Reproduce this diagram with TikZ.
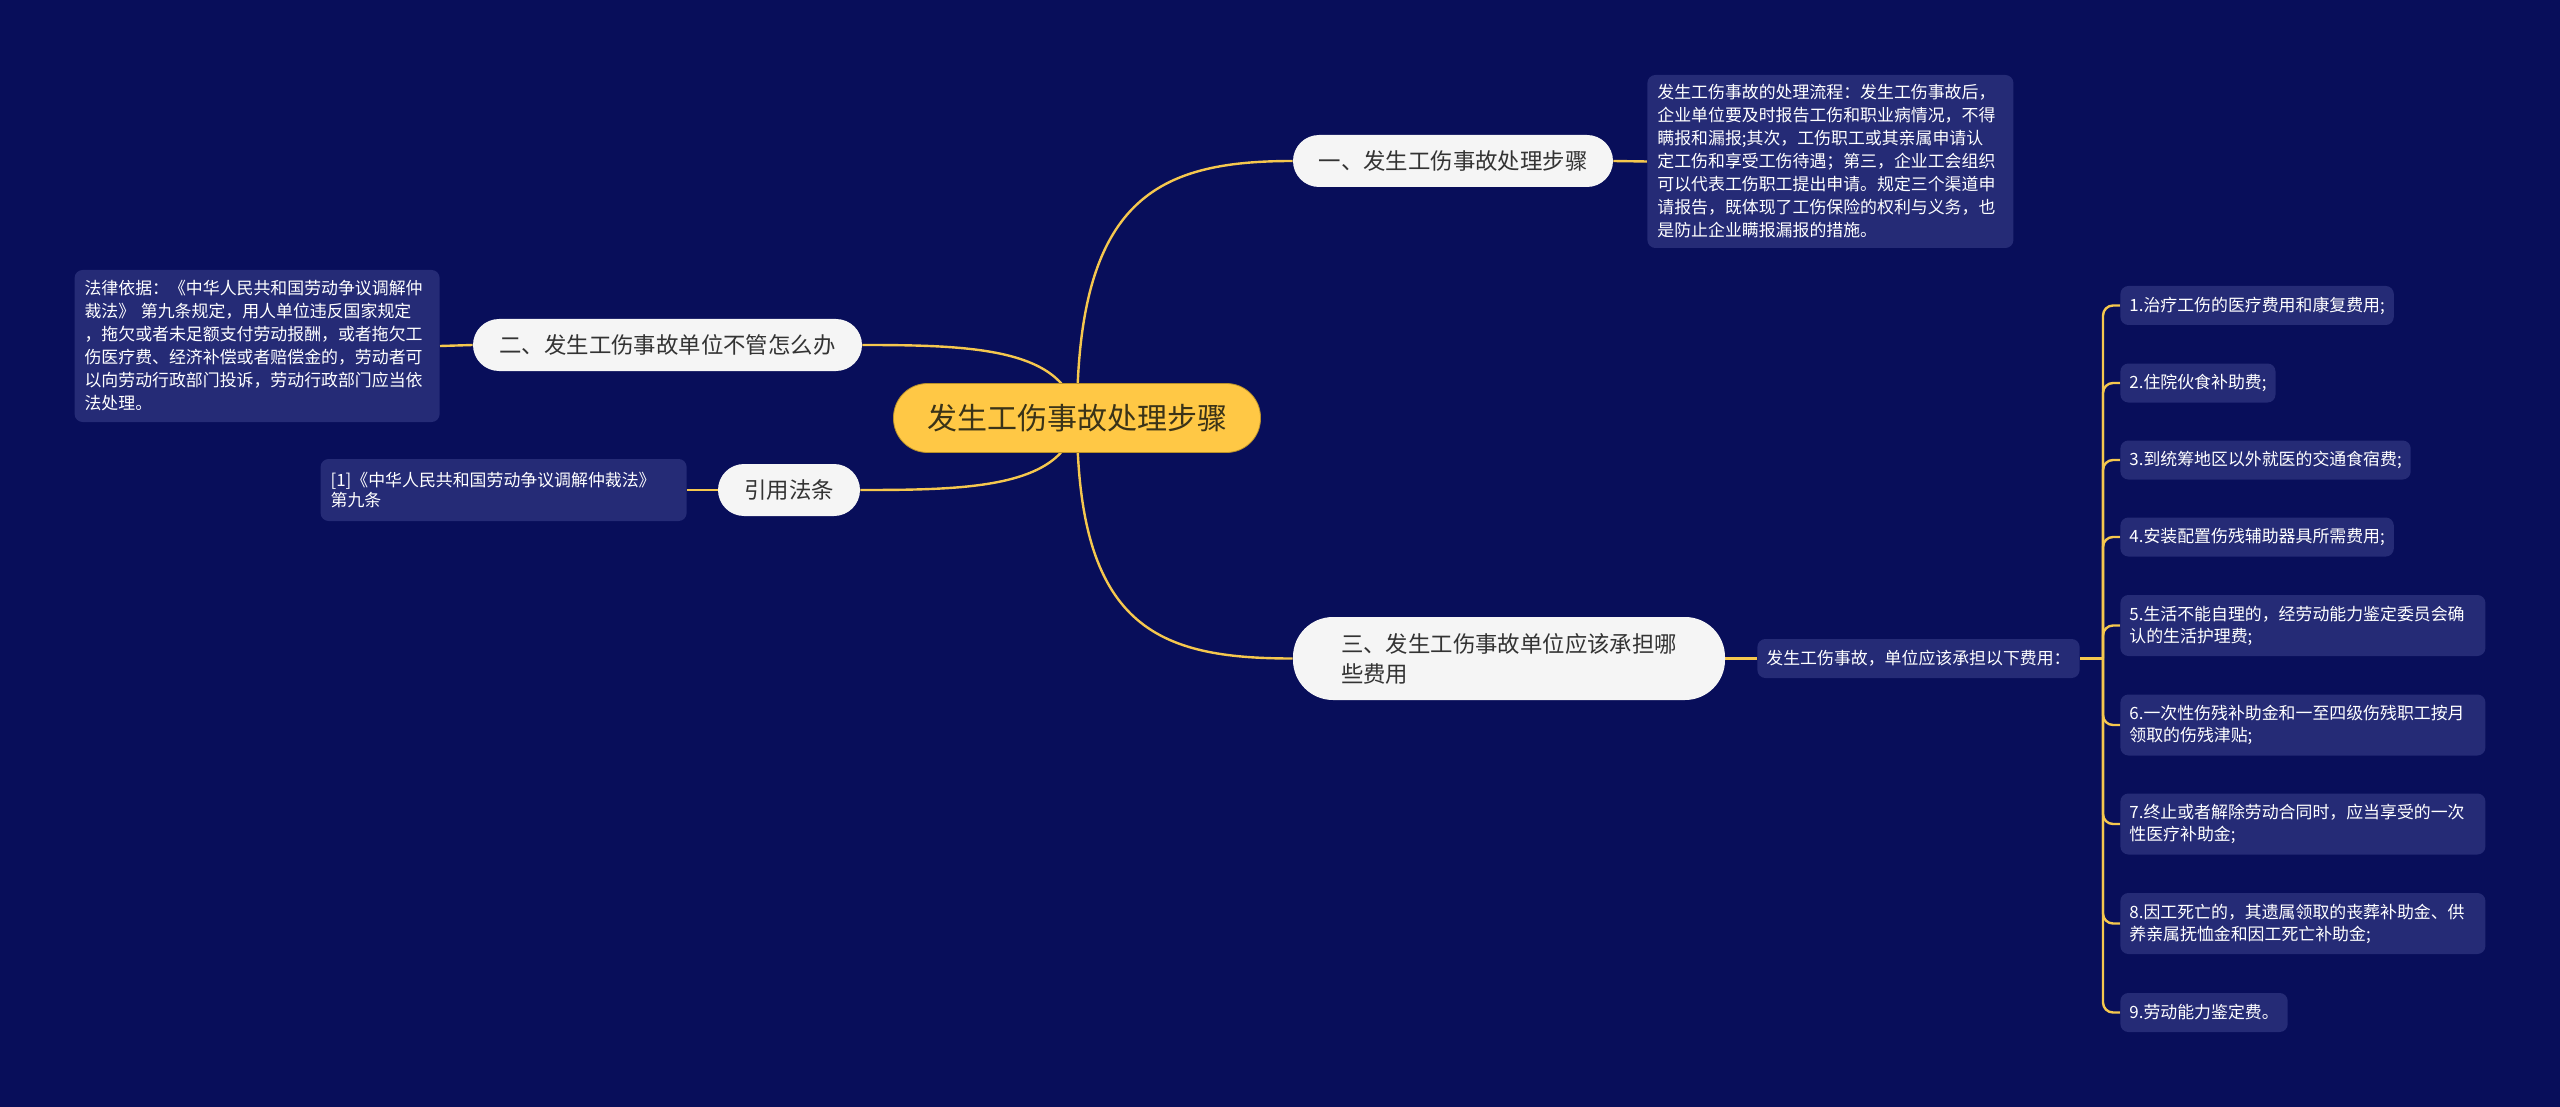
\documentclass[tikz,border=0pt]{standalone}
\usepackage{fontspec}
\setmainfont{Noto Sans CJK SC}
\usepackage{xcolor}
\usepackage{tikz}
\usetikzlibrary{backgrounds}
\definecolor{canvas}{HTML}{080E5A}
\definecolor{panel}{HTML}{252B76}
\definecolor{pillbg}{HTML}{F5F5F5}
\definecolor{ink}{HTML}{333333}
\definecolor{gold}{HTML}{FFC845}
\definecolor{goldedge}{HTML}{B8902A}
\definecolor{wire}{HTML}{F5C74E}
\definecolor{rootink}{HTML}{3A3318}
\tikzset{
  conn/.style={draw=wire, line width=1.2pt},
  rootbox/.style={fill=gold, draw=goldedge, line width=0.4pt, rounded corners=17pt,
    minimum width=183.5pt, minimum height=34.5pt, text=rootink,
    font=\fontsize{15}{18}\selectfont},
  pill/.style={fill=pillbg, rounded corners=13pt, minimum height=26pt, text=ink,
    font=\fontsize{11.2}{15}\selectfont},
  notebox/.style={fill=panel, rounded corners=4pt, text=white, align=left,
    inner xsep=5pt, inner ysep=0pt, font=\fontsize{8.45}{11.5}\selectfont},
  costbox/.style={notebox, inner xsep=4.5pt, minimum height=19.5pt, anchor=west},
  costwide/.style={costbox, text width=173.5pt, minimum height=30.5pt,
    font=\fontsize{8.45}{11}\selectfont}
}

\begin{document}
\begin{tikzpicture}[x=0.5pt,y=-0.5pt]
  \useasboundingbox (0,0) rectangle (2560,1107);
  % centre
  \node[rootbox] (root) at (1077,418) {发生工伤事故处理步骤};
  % branches
  \node[pill, minimum width=160pt] (n1) at (1453,161) {一、发生工伤事故处理步骤};
  \node[pill, minimum width=194.5pt] (n2) at (667.5,345) {二、发生工伤事故单位不管怎么办};
  \node[pill, minimum width=71pt] (n4) at (789,490) {引用法条};
  \node[pill, rounded corners=20pt, minimum height=41.5pt, align=left,
    text width=168pt, inner xsep=24pt] (n3) at (1509,658.5)
    {三、发生工伤事故单位应该承担哪\\些费用};
  % notes
  \node[notebox, text width=173pt, minimum height=86.5pt, anchor=west] (n1d) at (1647,161.5)
    {发生工伤事故的处理流程：发生工伤事故后，\\
     企业单位要及时报告工伤和职业病情况，不得\\
     瞒报和漏报;其次，工伤职工或其亲属申请认\\
     定工伤和享受工伤待遇；第三，企业工会组织\\
     可以代表工伤职工提出申请。规定三个渠道申\\
     请报告，既体现了工伤保险的权利与义务，也\\
     是防止企业瞒报漏报的措施。};
  \node[notebox, text width=172.5pt, minimum height=76pt, anchor=east] (n2d) at (440,346)
    {法律依据：《中华人民共和国劳动争议调解仲\\
     裁法》 第九条规定，用人单位违反国家规定\\
     ，拖欠或者未足额支付劳动报酬，或者拖欠工\\
     伤医疗费、经济补偿或者赔偿金的，劳动者可\\
     以向劳动行政部门投诉，劳动行政部门应当依\\
     法处理。};
  \node[notebox, text width=173pt, minimum height=31pt, anchor=east,
    font=\fontsize{8.45}{10}\selectfont] (n4d) at (687,490)
    {[1]《中华人民共和国劳动争议调解仲裁法》\\第九条};
  \node[costbox] (n3d) at (1757,658.5) {发生工伤事故，单位应该承担以下费用：};
  % costs
  \node[costbox] (c1) at (2120,305.5) {1.治疗工伤的医疗费用和康复费用;};
  \node[costbox] (c2) at (2120,383) {2.住院伙食补助费;};
  \node[costbox] (c3) at (2120,460) {3.到统筹地区以外就医的交通食宿费;};
  \node[costbox] (c4) at (2120,537) {4.安装配置伤残辅助器具所需费用;};
  \node[costwide] (c5) at (2120,625.5) {5.生活不能自理的，经劳动能力鉴定委员会确\\认的生活护理费;};
  \node[costwide] (c6) at (2120,725) {6.一次性伤残补助金和一至四级伤残职工按月\\领取的伤残津贴;};
  \node[costwide] (c7) at (2120,824) {7.终止或者解除劳动合同时，应当享受的一次\\性医疗补助金;};
  \node[costwide] (c8) at (2120,923.5) {8.因工死亡的，其遗属领取的丧葬补助金、供\\养亲属抚恤金和因工死亡补助金;};
  \node[costbox] (c9) at (2120,1012.5) {9.劳动能力鉴定费。};
  \coordinate (br) at (2103,658.5);

  \begin{pgfonlayer}{background}
    \fill[canvas] (0,0) rectangle (2560,1107);
    \draw[conn] (root.center) .. controls +(0,-220) and +(-135,0) .. (n1.west);
    \draw[conn] (root.center) .. controls +(0,210) and +(-135,0) .. (n3.west);
    \draw[conn] (root.center) .. controls +(-10,-70) and +(110,0) .. (n2.east);
    \draw[conn] (root.center) .. controls +(-10,70) and +(110,0) .. (n4.east);
    \draw[conn] (n1.east) -- (n1d.west);
    \draw[conn] (n2.west) -- (n2d.east);
    \draw[conn] (n4.west) -- (n4d.east);
    \draw[conn] (n3.east) -- (n3d.west);
    \draw[conn] (n3d.east) -- (br);
    \foreach \k in {1,...,9}
      \draw[conn, rounded corners=5pt] (br) |- (c\k.west);
  \end{pgfonlayer}
\end{tikzpicture}
\end{document}
